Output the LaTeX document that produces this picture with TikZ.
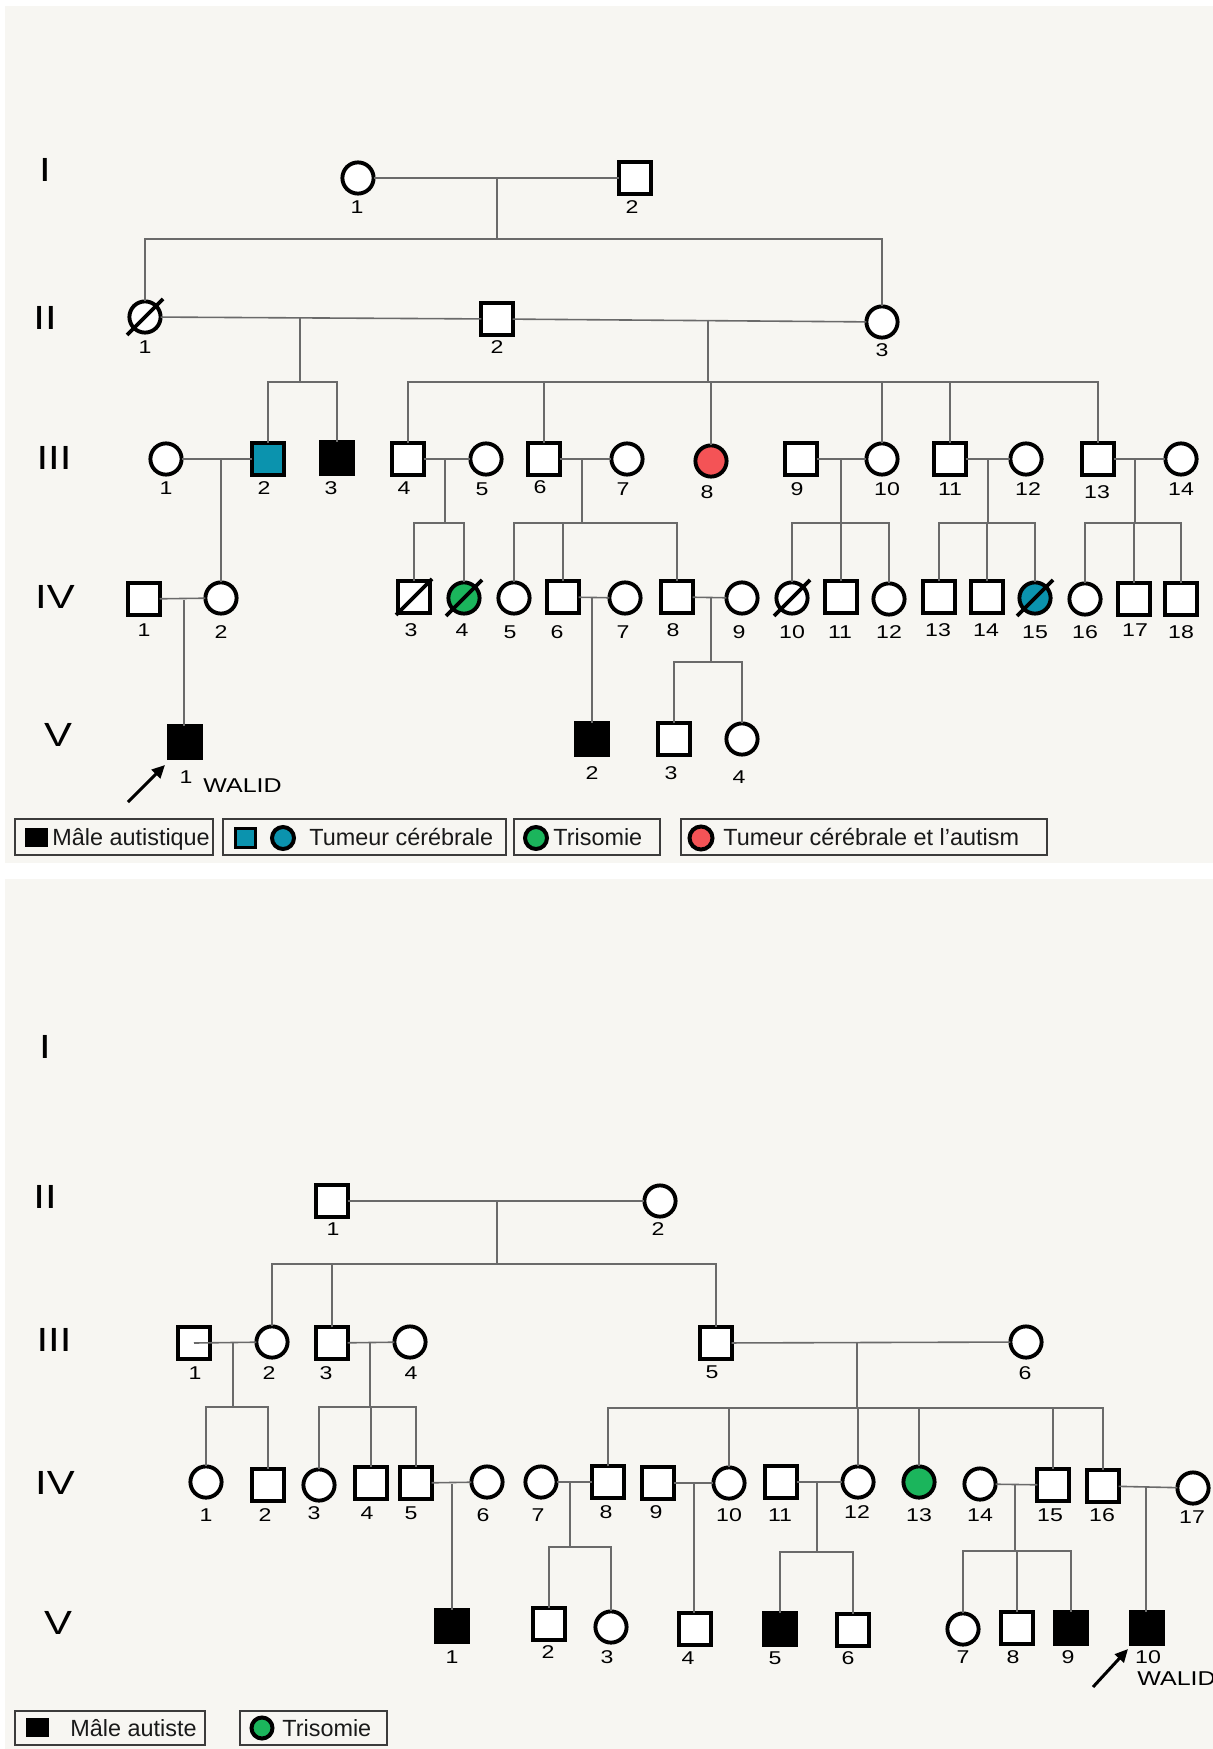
\documentclass[tikz,border=0pt]{standalone}
\usepackage{fontspec}
\usetikzlibrary{arrows.meta}
\newfontfamily\lblfont[FakeStretch=1.25]{Liberation Sans}
\newfontfamily\legfont{Liberation Sans}
\definecolor{panel}{HTML}{F7F6F2}
\definecolor{tumour}{HTML}{0B93AE}
\definecolor{tumaut}{HTML}{F45356}
\definecolor{trisomy}{HTML}{1BB55C}
\definecolor{linkgray}{HTML}{6A6A6A}
\definecolor{boxgray}{HTML}{3C3C3C}

\begin{document}
\begin{tikzpicture}[x=0.5pt,y=-0.5pt,
  sym/.style={draw=black, line width=1.95pt, fill=white, inner sep=0pt, outer sep=0pt, minimum size=15.6pt},
  male/.style={sym, rectangle},
  fem/.style={sym, circle},
  aff/.style={fill=black},
  link/.style={draw=linkgray, line width=0.8pt},
  deadmark/.style={draw=black, line width=1.8pt},
  num/.style={font=\lblfont\fontsize{9.25}{11}\selectfont, inner sep=0pt},
  walid/.style={font=\lblfont\fontsize{10}{12}\selectfont, inner sep=0pt, anchor=west},
  gen/.style={font=\lblfont\fontsize{16.75}{18}\selectfont, inner sep=0pt},
  legbox/.style={draw=boxgray, line width=0.75pt},
  legtext/.style={font=\legfont\fontsize{11.7}{14}\selectfont, text=black!90, inner sep=0pt, anchor=base west},
  pointer/.style={draw=black, line width=1.5pt, -{Triangle[length=6.5pt,width=6pt]}}]

\useasboundingbox (0,0) rectangle (1213,1749);
\clip (0,0) rectangle (1213,1749);
\fill[white] (0,0) rectangle (1213,1749);
\fill[panel] (5,6) rectangle (1213,863);
\fill[panel] (5,879) rectangle (1213,1749);

% ================= first family tree =================
\node[gen] (tg1) at (45,170) {I};
\node[gen] (tg2) at (45,318) {II};
\node[gen] (tg3) at (54,458) {III};
\node[gen] (tg4) at (55,597) {IV};
\node[gen] (tg5) at (58,735) {V};

% generation I
\node[fem]  (tI1) at (358,178) {};
\node[male] (tI2) at (635,178) {};
% generation II
\node[fem]  (tII1) at (145,317) {};
\node[male] (tII2) at (497,319) {};
\node[fem]  (tII3) at (882,322) {};
% generation III
\node[fem]  (tIII1) at (166,459) {};
\node[male,fill=tumour] (tIII2) at (268,459) {};
\node[male,aff] (tIII3) at (337,458) {};
\node[male] (tIII4) at (408,459) {};
\node[fem]  (tIII5) at (486,459) {};
\node[male] (tIII6) at (544,459) {};
\node[fem]  (tIII7) at (627,459) {};
\node[fem,fill=tumaut] (tIII8) at (711,461) {};
\node[male] (tIII9) at (801,459) {};
\node[fem]  (tIII10) at (882,459) {};
\node[male] (tIII11) at (950,459) {};
\node[fem]  (tIII12) at (1026,459) {};
\node[male] (tIII13) at (1098,459) {};
\node[fem]  (tIII14) at (1181,459) {};
% generation IV
\node[male] (tIV1) at (144,599) {};
\node[fem]  (tIV2) at (221,598) {};
\node[male] (tIV3) at (414,597) {};
\node[fem,fill=trisomy] (tIV4) at (464,598) {};
\node[fem]  (tIV5) at (514,598) {};
\node[male] (tIV6) at (563,597) {};
\node[fem]  (tIV7) at (625,598) {};
\node[male] (tIV8) at (677,597) {};
\node[fem]  (tIV9) at (742,598) {};
\node[fem]  (tIV10) at (792,598) {};
\node[male] (tIV11) at (841,597) {};
\node[fem]  (tIV12) at (889,599) {};
\node[male] (tIV13) at (939,597) {};
\node[male] (tIV14) at (987,597) {};
\node[fem,fill=tumour] (tIV15) at (1035,598) {};
\node[fem]  (tIV16) at (1085,599) {};
\node[male] (tIV17) at (1134,599) {};
\node[male] (tIV18) at (1181,599) {};
% generation V
\node[male,aff] (tV1) at (185,742) {};
\node[male,aff] (tV2) at (592,739) {};
\node[male] (tV3) at (674,739) {};
\node[fem]  (tV4) at (742,739) {};

% deceased marks
\foreach \p in {tII1,tIV3,tIV4,tIV10,tIV15}
  \draw[deadmark] (\p.center) ++(-18,18) -- ++(36,-36);

% couples and sibships
\draw[link] (tI1) -- (tI2);
\coordinate (tmI) at (497,178);
\coordinate (tsI) at (497,239);
\draw[link] (tmI) -- (tsI);
\draw[link] (tII1.north) |- (tsI) -| (tII3.north);

\draw[link] (tII1) -- (tII2);
\draw[link] (tII2) -- (tII3);
\coordinate (tmIIa) at (300,318);
\coordinate (tsIIa) at (300,382);
\draw[link] (tmIIa) -- (tsIIa);
\draw[link] (tIII2.north) |- (tsIIa) -| (tIII3.north);
\coordinate (tmIIb) at (708,320);
\coordinate (tsIIb) at (708,382);
\draw[link] (tmIIb) -- (tsIIb);
\draw[link] (tIII4.north) |- (tsIIb) -| (tIII13.north);
\foreach \c in {tIII6,tIII8,tIII10,tIII11}
  \draw[link] (\c.north) -- (\c.north |- tsIIb);

\draw[link] (tIII1) -- (tIII2);
\coordinate (tmIIIa) at (221,459);
\draw[link] (tmIIIa) -- (tmIIIa |- tIV2.north);

\draw[link] (tIII4) -- (tIII5);
\coordinate (tmIIIb) at (445,459);
\coordinate (tsIIIb) at (445,523);
\draw[link] (tmIIIb) -- (tsIIIb);
\draw[link] (tIV3.north) |- (tsIIIb) -| (tIV4.north);

\draw[link] (tIII6) -- (tIII7);
\coordinate (tmIIIc) at (582,459);
\coordinate (tsIIIc) at (582,523);
\draw[link] (tmIIIc) -- (tsIIIc);
\draw[link] (tIV5.north) |- (tsIIIc) -| (tIV8.north);
\draw[link] (tIV6.north) -- (tIV6.north |- tsIIIc);

\draw[link] (tIII9) -- (tIII10);
\coordinate (tmIIId) at (841,459);
\coordinate (tsIIId) at (841,523);
\draw[link] (tmIIId) -- (tsIIId);
\draw[link] (tIV10.north) |- (tsIIId) -| (tIV12.north);
\draw[link] (tIV11.north) -- (tIV11.north |- tsIIId);

\draw[link] (tIII11) -- (tIII12);
\coordinate (tmIIIe) at (988,459);
\coordinate (tsIIIe) at (988,523);
\draw[link] (tmIIIe) -- (tsIIIe);
\draw[link] (tIV13.north) |- (tsIIIe) -| (tIV15.north);
\draw[link] (tIV14.north) -- (tIV14.north |- tsIIIe);

\draw[link] (tIII13) -- (tIII14);
\coordinate (tmIIIf) at (1135,459);
\coordinate (tsIIIf) at (1135,523);
\draw[link] (tmIIIf) -- (tsIIIf);
\draw[link] (tIV16.north) |- (tsIIIf) -| (tIV18.north);
\draw[link] (tIV17.north) -- (tIV17.north |- tsIIIf);

\draw[link] (tIV1) -- (tIV2);
\coordinate (tmIVa) at (184,600);
\draw[link] (tmIVa) -- (tmIVa |- tV1.north);

\draw[link] (tIV6) -- (tIV7);
\coordinate (tmIVb) at (592,597);
\draw[link] (tmIVb) -- (tmIVb |- tV2.north);

\draw[link] (tIV8) -- (tIV9);
\coordinate (tmIVc) at (711,598);
\coordinate (tsIVc) at (711,662);
\draw[link] (tmIVc) -- (tsIVc);
\draw[link] (tV3.north) |- (tsIVc) -| (tV4.north);

% individual numbers
\foreach \n/\x/\y/\t in {
  tnI1/357/207/1, tnI2/632/207/2,
  tnII1/145/347/1, tnII2/497/347/2, tnII3/882/350/3,
  tnIII1/166/488/1, tnIII2/264/488/2, tnIII3/331/488/3, tnIII4/404/488/4,
  tnIII5/482/489/5, tnIII6/540/487/6, tnIII7/623/489/7, tnIII8/707/492/8,
  tnIII9/797/489/9, tnIII10/887/489/10, tnIII11/950/489/11, tnIII12/1028/489/12,
  tnIII13/1097/492/13, tnIII14/1181/489/14,
  tnIV1/144/630/1, tnIV2/221/632/2, tnIV3/411/630/3, tnIV4/462/630/4,
  tnIV5/510/632/5, tnIV6/557/632/6, tnIV7/623/632/7, tnIV8/673/630/8,
  tnIV9/739/632/9, tnIV10/792/632/10, tnIV11/840/632/11, tnIV12/889/632/12,
  tnIV13/938/630/13, tnIV14/986/630/14, tnIV15/1035/632/15, tnIV16/1085/632/16,
  tnIV17/1135/630/17, tnIV18/1181/632/18,
  tnV1/186/777/1, tnV2/592/773/2, tnV3/671/773/3, tnV4/739/777/4}
  \node[num] (\n) at (\x,\y) {\t};

\node[walid] (twalid) at (203,786) {WALID};
\coordinate (tarrS) at (128,802);
\coordinate (tarrE) at (165,765);
\draw[pointer] (tarrS) -- (tarrE);

% legend of the first tree
\draw[legbox] (15,819) rectangle (213,855);
\fill[black] (25,828) rectangle (48,847);
\node[legtext] (tlegA) at (52,845) {Mâle autistique};

\draw[legbox] (223,819) rectangle (506,855);
\draw[line width=1.5pt, fill=tumour] (235.5,828) rectangle (255.5,847);
\draw[line width=2pt, fill=tumour] (283,838) circle (11);
\node[legtext] (tlegB) at (309,845) {Tumeur cérébrale};

\draw[legbox] (514,819) rectangle (660,855);
\draw[line width=2pt, fill=trisomy] (536,838) circle (11);
\node[legtext] (tlegC) at (553,845) {Trisomie};

\draw[legbox] (681,819) rectangle (1047,855);
\draw[line width=2pt, fill=tumaut] (701,838) circle (11.5);
\node[legtext] (tlegD) at (723,845) {Tumeur cérébrale et l’autism};

% ================= second family tree =================
\node[gen] (bg1) at (45,1047) {I};
\node[gen] (bg2) at (45,1197) {II};
\node[gen] (bg3) at (54,1340) {III};
\node[gen] (bg4) at (55,1483) {IV};
\node[gen] (bg5) at (58,1623) {V};

% generation II
\node[male] (bII1) at (332,1201) {};
\node[fem]  (bII2) at (660,1201) {};
% generation III
\node[male] (bIII1) at (194,1343) {};
\node[fem]  (bIII2) at (272,1342) {};
\node[male] (bIII3) at (332,1343) {};
\node[fem]  (bIII4) at (410,1342) {};
\node[male] (bIII5) at (716,1343) {};
\node[fem]  (bIII6) at (1026,1342) {};
% generation IV
\node[fem]  (bIV1) at (206,1482) {};
\node[male] (bIV2) at (268,1485) {};
\node[fem]  (bIV3) at (319,1485) {};
\node[male] (bIV4) at (371,1483) {};
\node[male] (bIV5) at (416,1483) {};
\node[fem]  (bIV6) at (487,1482) {};
\node[fem]  (bIV7) at (541,1482) {};
\node[male] (bIV8) at (608,1482) {};
\node[male] (bIV9) at (658,1483) {};
\node[fem]  (bIV10) at (729,1483) {};
\node[male] (bIV11) at (781,1482) {};
\node[fem]  (bIV12) at (858,1482) {};
\node[fem,fill=trisomy] (bIV13) at (919,1482) {};
\node[fem]  (bIV14) at (980,1484) {};
\node[male] (bIV15) at (1053,1485) {};
\node[male] (bIV16) at (1103,1486) {};
\node[fem]  (bIV17) at (1193,1488) {};
% generation V
\node[male,aff] (bV1) at (452,1626) {};
\node[male] (bV2) at (549,1624) {};
\node[fem]  (bV3) at (611,1627) {};
\node[male] (bV4) at (695,1629) {};
\node[male,aff] (bV5) at (780,1629) {};
\node[male] (bV6) at (853,1630) {};
\node[fem]  (bV7) at (963,1629) {};
\node[male] (bV8) at (1017,1628) {};
\node[male,aff] (bV9) at (1071,1628) {};
\node[male,aff] (bV10) at (1147,1628) {};

% couples and sibships
\draw[link] (bII1) -- (bII2);
\coordinate (bmII) at (497,1201);
\coordinate (bsII) at (497,1264);
\draw[link] (bmII) -- (bsII);
\draw[link] (bIII2.north) |- (bsII) -| (bIII5.north);
\draw[link] (bIII3.north) -- (bIII3.north |- bsII);

\draw[link] (bIII1.center) -- (bIII2);
\coordinate (bmIIIa) at (233,1342);
\coordinate (bsIIIa) at (233,1407);
\draw[link] (bmIIIa) -- (bsIIIa);
\draw[link] (bIV1.north) |- (bsIIIa) -| (bIV2.north);

\draw[link] (bIII3) -- (bIII4);
\coordinate (bmIIIb) at (370,1343);
\coordinate (bsIIIb) at (370,1407);
\draw[link] (bmIIIb) -- (bsIIIb);
\draw[link] (bIV3.north) |- (bsIIIb) -| (bIV5.north);
\draw[link] (bIV4.north) -- (bIV4.north |- bsIIIb);

\draw[link] (bIII5) -- (bIII6);
\coordinate (bmIIIc) at (857,1343);
\coordinate (bsIIIc) at (857,1408);
\draw[link] (bmIIIc) -- (bsIIIc);
\draw[link] (bIV8.north) |- (bsIIIc) -| (bIV16.north);
\foreach \c in {bIV10,bIV12,bIV13,bIV15}
  \draw[link] (\c.north) -- (\c.north |- bsIIIc);

\draw[link] (bIV5) -- (bIV6);
\coordinate (bmIVa) at (452,1484);
\draw[link] (bmIVa) -- (bmIVa |- bV1.north);

\draw[link] (bIV7) -- (bIV8);
\coordinate (bmIVb) at (570,1482);
\coordinate (bsIVb) at (570,1547);
\draw[link] (bmIVb) -- (bsIVb);
\draw[link] (bV2.north) |- (bsIVb) -| (bV3.north);

\draw[link] (bIV9) -- (bIV10);
\coordinate (bmIVc) at (694,1483);
\draw[link] (bmIVc) -- (bmIVc |- bV4.north);

\draw[link] (bIV11) -- (bIV12);
\coordinate (bmIVd) at (817,1482);
\coordinate (bsIVd) at (817,1552);
\draw[link] (bmIVd) -- (bsIVd);
\draw[link] (bV5.north) |- (bsIVd) -| (bV6.north);

\draw[link] (bIV14) -- (bIV15);
\coordinate (bmIVe) at (1015,1485);
\coordinate (bsIVe) at (1015,1551);
\draw[link] (bmIVe) -- (bsIVe);
\draw[link] (bV7.north) |- (bsIVe) -| (bV9.north);
\draw[link] (bV8.north) -- (bV8.north |- bsIVe);

\draw[link] (bIV16) -- (bIV17);
\coordinate (bmIVf) at (1146,1487);
\draw[link] (bmIVf) -- (bmIVf |- bV10.north);

% individual numbers
\foreach \n/\x/\y/\t in {
  bnII1/333/1229/1, bnII2/658/1229/2,
  bnIII1/195/1373/1, bnIII2/269/1373/2, bnIII3/326/1373/3, bnIII4/411/1373/4,
  bnIII5/712/1372/5, bnIII6/1025/1373/6,
  bnIV1/206/1515/1, bnIV2/265/1515/2, bnIV3/314/1513/3, bnIV4/367/1513/4,
  bnIV5/411/1513/5, bnIV6/483/1515/6, bnIV7/538/1515/7, bnIV8/606/1512/8,
  bnIV9/656/1512/9, bnIV10/729/1515/10, bnIV11/780/1515/11, bnIV12/857/1512/12,
  bnIV13/919/1515/13, bnIV14/980/1515/14, bnIV15/1050/1515/15, bnIV16/1102/1515/16,
  bnIV17/1192/1517/17,
  bnV1/452/1657/1, bnV2/548/1652/2, bnV3/607/1657/3, bnV4/688/1658/4,
  bnV5/775/1658/5, bnV6/848/1658/6, bnV7/963/1657/7, bnV8/1013/1657/8,
  bnV9/1068/1657/9, bnV10/1148/1657/10}
  \node[num] (\n) at (\x,\y) {\t};

\node[walid] (bwalid) at (1137,1679) {WALID};
\coordinate (barrS) at (1093,1687);
\coordinate (barrE) at (1128,1649);
\draw[pointer] (barrS) -- (barrE);

% legend of the second tree
\draw[legbox] (15,1711) rectangle (205,1745);
\fill[black] (26,1718) rectangle (49,1737);
\node[legtext] (blegA) at (70,1736) {Mâle autiste};

\draw[legbox] (240,1711) rectangle (387,1745);
\draw[line width=2pt, fill=trisomy] (262,1728) circle (10.5);
\node[legtext] (blegB) at (282,1736) {Trisomie};
\end{tikzpicture}
\end{document}
